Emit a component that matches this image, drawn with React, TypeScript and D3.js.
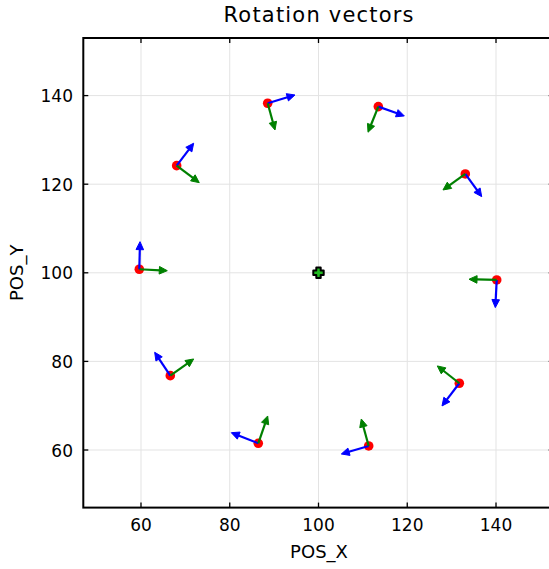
import React from "react";
import * as d3 from "d3";

// Data (in data units)
const posX = [59.62, 68.04, 88.55, 113.48, 133.08, 140.16, 131.73, 111.31, 86.43, 66.6];
const posY = [100.8, 124.19, 138.27, 137.51, 122.31, 98.39, 75.07, 60.91, 61.52, 76.78];
const blueDX = [0.16, 3.83, 6.15, 5.86, 3.7, -0.32, -3.9, -6.17, -6.08, -3.52];
const blueDY = [6.23, 5.06, 1.87, -2.1, -5.12, -6.25, -5.12, -1.81, 2.39, 5.28];
const greenDX = [6.31, 5.09, 1.65, -2.32, -5.03, -6.24, -4.96, -1.67, 2.12, 5.27];
const greenDY = [-0.32, -3.84, -6.03, -5.78, -3.61, 0.16, 3.91, 6.09, 6.16, 3.77];
const centerPoint = [100, 100];
const xTicks = [60, 80, 100, 120, 140];
const yTicks = [60, 80, 100, 120, 140];
const xDomain = [47, 153];
const yDomain = [47, 153];
const title = "Rotation vectors";
const xLabel = "POS_X";
const yLabel = "POS_Y";

const W = 549;
const H = 569;
const FONT = "DejaVu Sans, sans-serif";

export default function App() {
  const x = d3.scaleLinear().domain(xDomain).range([83.3, 553.7]);
  const y = d3.scaleLinear().domain(yDomain).range([507.6, 38.0]);
  const [x0, x1] = x.range();
  const [y0, y1] = y.range();

  const arrow = (bx: number, by: number, dx: number, dy: number, color: string, key: string) => {
    const sx = x(bx), sy = y(by);
    const ex = x(bx + dx), ey = y(by + dy);
    const ang = Math.atan2(ey - sy, ex - sx);
    const hl = 8, hw = 3.8;
    const lx = ex - hl * Math.cos(ang), ly = ey - hl * Math.sin(ang);
    const p1 = [lx + hw * Math.sin(ang), ly - hw * Math.cos(ang)];
    const p2 = [lx - hw * Math.sin(ang), ly + hw * Math.cos(ang)];
    const path = d3.path();
    path.moveTo(ex, ey);
    path.lineTo(p1[0], p1[1]);
    path.lineTo(p2[0], p2[1]);
    path.closePath();
    return (
      <g key={key}>
        <line x1={sx} y1={sy} x2={lx + 1 * Math.cos(ang)} y2={ly + 1 * Math.sin(ang)} stroke={color} strokeWidth={2.2} />
        <path d={path.toString()} fill={color} stroke={color} strokeWidth={1} strokeLinejoin="miter" />
      </g>
    );
  };

  const cx = x(centerPoint[0]), cy = y(centerPoint[1]);
  const a = 5.2, b = 2.2;
  const plus = [
    [-b, -a], [b, -a], [b, -b], [a, -b], [a, b], [b, b], [b, a], [-b, a], [-b, b], [-a, b], [-a, -b], [-b, -b],
  ];
  const plusPath = d3.line()(plus.map(([px, py]) => [cx + px, cy + py]) as [number, number][]) + "Z";

  return (
    <svg width={W} height={H} style={{ position: "absolute", left: 0, top: 0 }} fontFamily={FONT}>
      <rect x={0} y={0} width={W} height={H} fill="white" />
      {/* grid */}
      <g stroke="#e3e3e3" strokeWidth={1}>
        {xTicks.map((t) => (
          <line key={"gx" + t} x1={x(t)} x2={x(t)} y1={y1} y2={y0} />
        ))}
        {yTicks.map((t) => (
          <line key={"gy" + t} x1={x0} x2={x1} y1={y(t)} y2={y(t)} />
        ))}
      </g>
      {/* ticks */}
      <g stroke="black" strokeWidth={1.3}>
        {xTicks.map((t) => (
          <g key={"tx" + t}>
            <line x1={x(t)} x2={x(t)} y1={y0} y2={y0 - 5} />
            <line x1={x(t)} x2={x(t)} y1={y1} y2={y1 + 5} />
          </g>
        ))}
        {yTicks.map((t) => (
          <g key={"ty" + t}>
            <line x1={x0} x2={x0 + 5} y1={y(t)} y2={y(t)} />
            <line x1={x1} x2={x1 - 5} y1={y(t)} y2={y(t)} />
          </g>
        ))}
      </g>
      {/* frame */}
      <rect x={x0} y={y1} width={x1 - x0} height={y0 - y1} fill="none" stroke="black" strokeWidth={2} />
      {/* tick labels */}
      <g fontSize={17} fill="black">
        {xTicks.map((t) => (
          <text key={"lx" + t} x={x(t)} y={530.5} textAnchor="middle">
            {t}
          </text>
        ))}
        {yTicks.map((t) => (
          <text key={"ly" + t} x={73} y={y(t) + 6.5} textAnchor="end">
            {t}
          </text>
        ))}
      </g>
      {/* points */}
      {posX.map((px, i) => (
        <circle key={"p" + i} cx={x(px)} cy={y(posY[i])} r={4.8} fill="#ff0000" />
      ))}
      {posX.map((px, i) => arrow(px, posY[i], blueDX[i], blueDY[i], "#0000ff", "b" + i))}
      {posX.map((px, i) => arrow(px, posY[i], greenDX[i], greenDY[i], "#008000", "g" + i))}
      {/* center marker */}
      <path d={plusPath} fill="#22bb22" stroke="black" strokeWidth={2} strokeLinejoin="round" />
      {/* title and labels */}
      <text x={318.5} y={22} textAnchor="middle" fontSize={21} textLength={190} lengthAdjust="spacing">
        {title}
      </text>
      <text x={319} y={558} textAnchor="middle" fontSize={18}>
        {xLabel}
      </text>
      <text transform={`translate(23.3,${272.85}) rotate(-90)`} textAnchor="middle" fontSize={18}>
        {yLabel}
      </text>
    </svg>
  );
}
